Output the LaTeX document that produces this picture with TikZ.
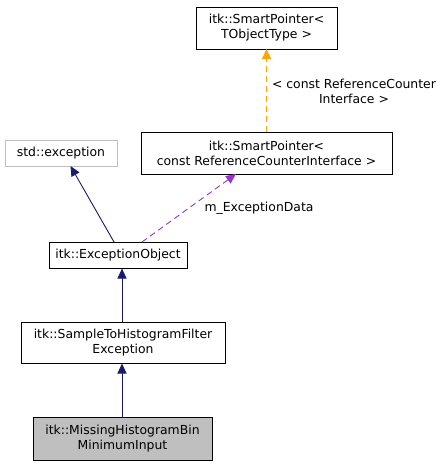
\documentclass[tikz,border=0pt]{standalone}
\usepackage{fontspec}
\setmainfont{DejaVu Sans}
\usetikzlibrary{arrows.meta}
\definecolor{navy}{HTML}{191970}
\definecolor{orng}{HTML}{FFA500}
\definecolor{purp}{HTML}{9A32CD}
\definecolor{grayb}{HTML}{BFBFBF}
\tikzset{
  cls/.style={draw=black, line width=1pt, inner sep=0pt, align=center, font=\fontsize{12.4}{15}\selectfont},
  inh/.style={navy, line width=0.9pt, -{Triangle[length=10pt,width=9pt]}},
  usedash/.style={line width=0.9pt, dash pattern=on 6pt off 4pt, -{Triangle[length=10pt,width=9pt]}},
  lbl/.style={font=\fontsize{12.4}{15}\selectfont, align=center, inner sep=0pt},
}
\begin{document}
\begin{tikzpicture}[x=1pt,y=-1pt]
\useasboundingbox (0,0) rectangle (445,467);
\node[cls, minimum width=141pt, minimum height=42pt] (sp1) at (266.5,28) {itk::SmartPointer<\\ TObjectType >};
\node[cls, minimum width=251pt, minimum height=42pt] (sp2) at (266.5,153) {itk::SmartPointer<\\ const ReferenceCounterInterface >};
\node[cls, draw=grayb, minimum width=112pt, minimum height=26pt] (stde) at (61,153) {std::exception};
\node[cls, minimum width=138pt, minimum height=26pt] (exo) at (118,255) {itk::ExceptionObject};
\node[cls, minimum width=204pt, minimum height=41pt] (sth) at (123,342.5) {itk::SampleToHistogramFilter\\ Exception};
\node[cls, fill=grayb, minimum width=179pt, minimum height=43pt] (mhb) at (122.5,438.5) {itk::MissingHistogramBin\\ MinimumInput};

\coordinate (a1) at (266.5,132);
\coordinate (a2) at (266.5,49);
\draw[usedash, orng] (a1) -- (a2);
\node[lbl] (l1) at (354,91) {< const ReferenceCounter\\ Interface >};

\coordinate (b1) at (142,242);
\coordinate (b2) at (236,174);
\draw[usedash, purp] (b1) -- (b2);
\node[lbl] (l2) at (259,208) {m\_ExceptionData};

\coordinate (c1) at (114,242);
\coordinate (c2) at (70.5,166);
\draw[inh] (c1) -- (c2);

\draw[inh] (sth.north -| 122,0) -- (exo.south -| 122,0);
\draw[inh] (mhb.north -| 122,0) -- (sth.south -| 122,0);
\end{tikzpicture}
\end{document}
